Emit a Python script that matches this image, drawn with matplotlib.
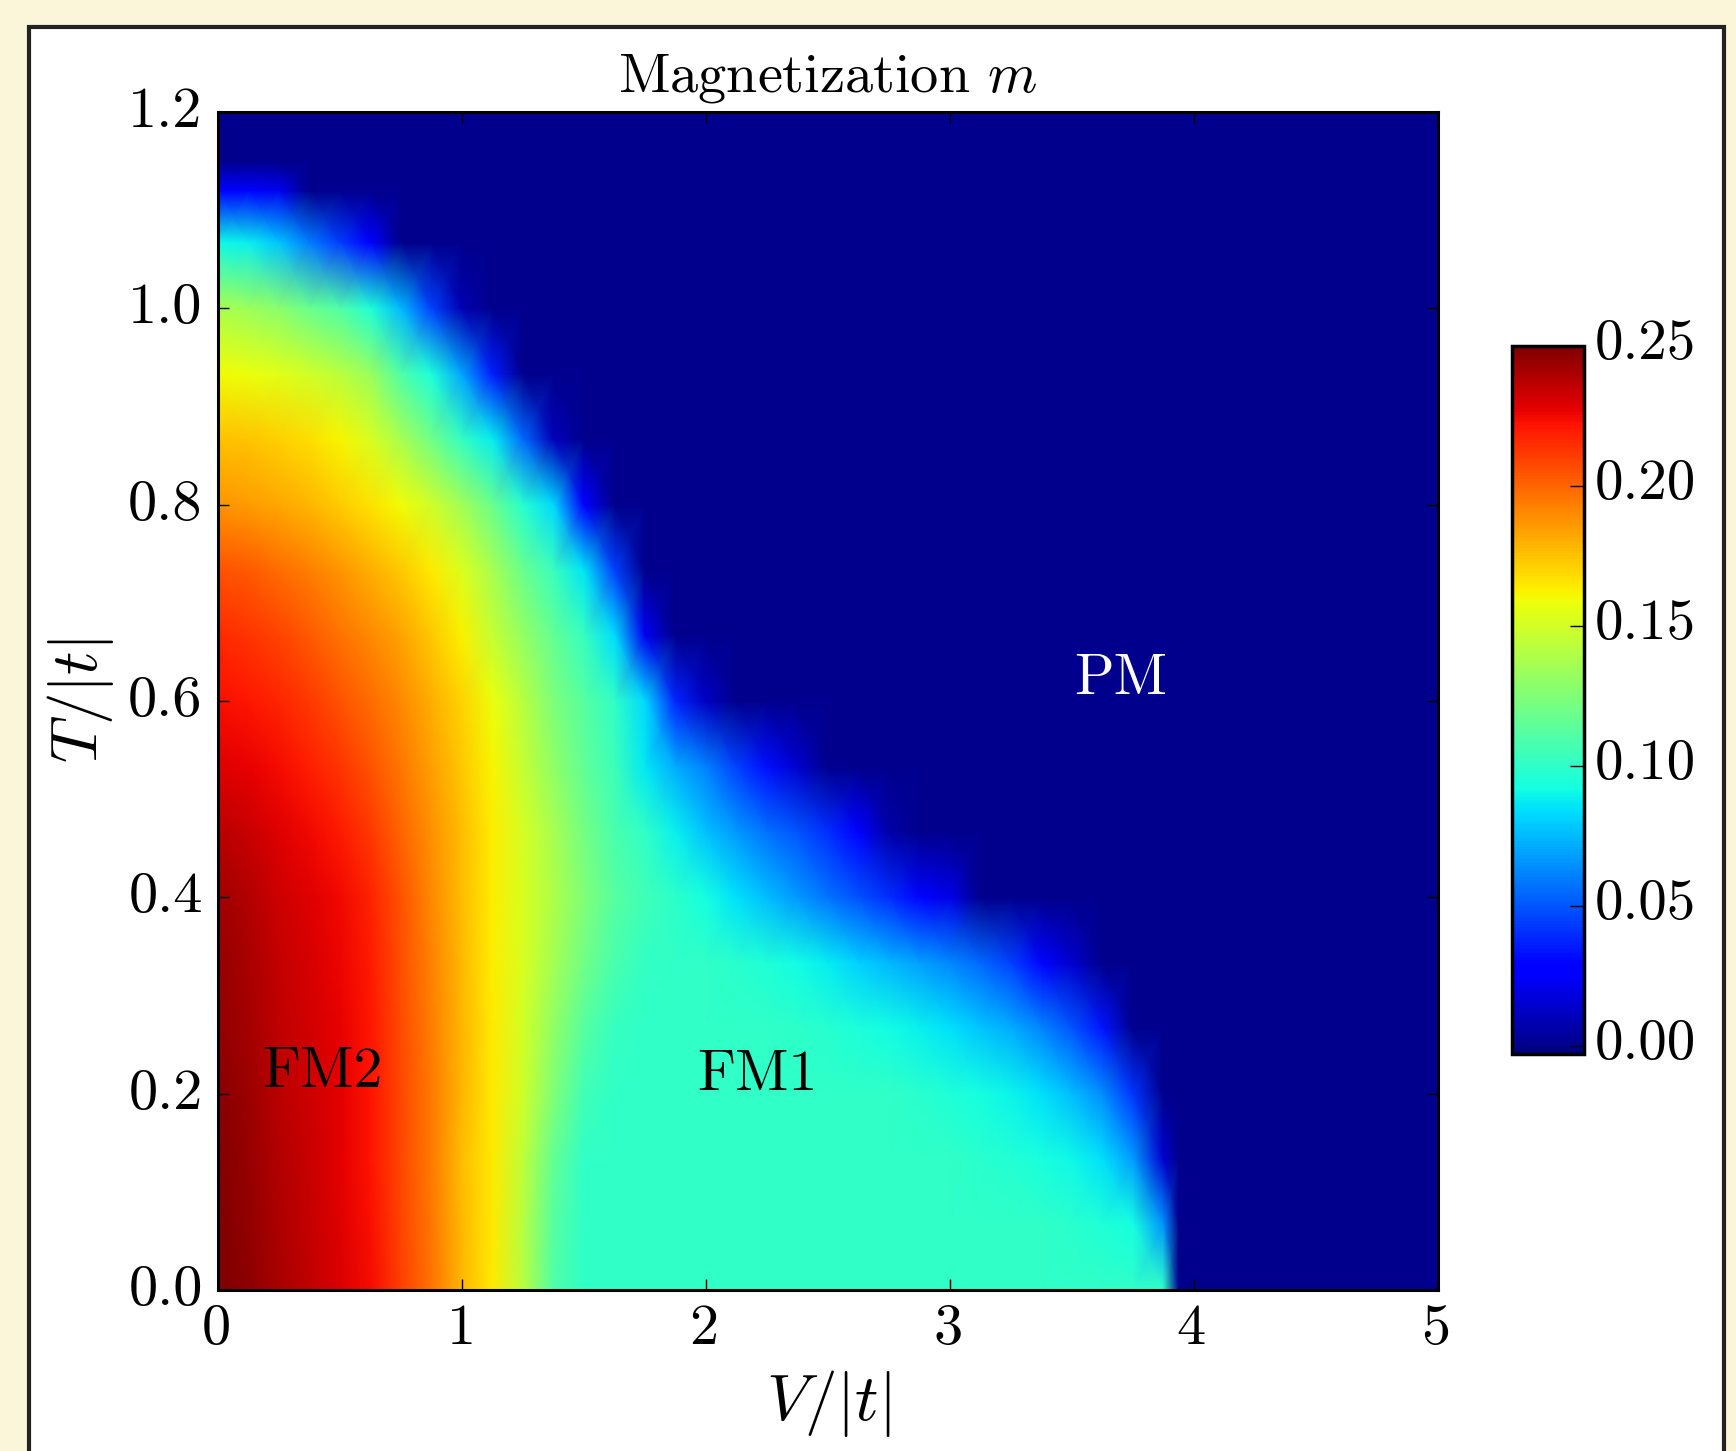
import matplotlib
matplotlib.use('Agg')
import matplotlib.pyplot as plt
from matplotlib.patches import Rectangle
from matplotlib.transforms import ScaledTranslation
import numpy as np

plt.rcParams['font.family'] = ['cmr10', 'DejaVu Serif']
plt.rcParams['mathtext.fontset'] = 'cm'
plt.rcParams['axes.unicode_minus'] = False
plt.rcParams['axes.formatter.use_mathtext'] = True

W, H = 1736, 1451

# grid of the map
v_grid = [0, 0.125, 0.25, 0.375, 0.5, 0.625, 0.75, 0.875, 1, 1.125, 1.25, 1.375, 1.5, 1.625, 1.75, 1.875,
          2, 2.125, 2.25, 2.375, 2.5, 2.625, 2.75, 2.875, 3, 3.125, 3.25, 3.375, 3.5, 3.625, 3.75, 3.875,
          3.9375, 4, 5]
t_grid = [0, 0.067, 0.133, 0.2, 0.267, 0.333, 0.4, 0.467, 0.533, 0.6, 0.667, 0.733, 0.8, 0.867, 0.933,
          1.0, 1.067, 1.12, 1.15, 1.2]

# magnetization x 1000 per T row, each row is zero past its last entry
m_t000 = [251, 247, 241, 236, 230, 224, 210, 196, 178, 165, 142, 110, 100, 100, 100, 100, 100, 100, 100, 100,
          100, 100, 100, 100, 100, 100, 100, 100, 100, 100, 100, 100]
m_t067 = [250, 246, 240, 235, 229, 223, 209, 195, 177, 165, 142, 112, 100, 100, 100, 100, 100, 100, 100, 100,
          100, 100, 100, 100, 100, 100, 100, 100, 98, 95, 92, 65]
m_t133 = [249, 245, 239, 234, 228, 222, 208, 194, 176, 165, 144, 116, 100, 100, 100, 100, 100, 100, 100, 100,
          100, 100, 100, 100, 100, 98, 96, 93, 90, 84, 68, 15]
m_t200 = [248, 244, 237, 233, 228, 222, 208, 194, 178, 165, 149, 125, 105, 100, 100, 100, 100, 100, 100, 100,
          100, 100, 100, 98, 95, 92, 89, 84, 76, 64, 42]
m_t267 = [246, 242, 236, 232, 227, 221, 207, 193, 178, 165, 150, 130, 112, 102, 100, 100, 100, 100, 100, 99,
          97, 94, 91, 88, 84, 78, 72, 62, 50, 34]
m_t333 = [245, 241, 235, 231, 226, 220, 206, 192, 177, 164, 152, 136, 120, 108, 101, 100, 100, 98, 95, 91,
          87, 81, 75, 69, 63, 55, 45, 30, 14]
m_t400 = [243, 239, 233, 229, 225, 218, 205, 190, 176, 164, 152, 139, 125, 112, 105, 99, 92, 84, 76, 67,
          58, 49, 40, 30, 20]
m_t467 = [237, 234, 229, 225, 220, 212, 200, 188, 176, 164, 151, 137, 121, 108, 100, 88, 77, 67, 57, 50, 40, 26, 6]
m_t533 = [229, 227, 224, 219, 213, 205, 195, 184, 173, 162, 146, 130, 115, 104, 86, 72, 61, 45, 32, 14]
m_t600 = [223, 221, 217, 212, 205, 198, 190, 180, 170, 158, 142, 124, 112, 100, 82, 38, 12]
m_t667 = [216, 213, 209, 203, 196, 190, 183, 173, 163, 146, 131, 116, 102, 83, 22]
m_t733 = [205, 203, 198, 193, 187, 180, 173, 165, 153, 137, 118, 103, 85, 45]
m_t800 = [187, 185, 182, 178, 172, 166, 160, 149, 135, 118, 97, 82, 25]
m_t867 = [175, 174, 171, 167, 162, 152, 137, 120, 101, 87, 55, 10]
m_t933 = [160, 158, 155, 150, 143, 133, 110, 94, 70, 36]
m_t1000 = [138, 134, 128, 118, 110, 95, 75, 45, 8]
m_t1067 = [90, 88, 78, 60, 44, 28]
m_t1120 = [28, 27, 22]
m_t1150 = []
m_t1200 = []

rows = [m_t000, m_t067, m_t133, m_t200, m_t267, m_t333, m_t400, m_t467, m_t533, m_t600, m_t667, m_t733,
        m_t800, m_t867, m_t933, m_t1000, m_t1067, m_t1120, m_t1150, m_t1200]

x_ticks = [0, 1, 2, 3, 4, 5]
y_ticks = [0.0, 0.2, 0.4, 0.6, 0.8, 1.0, 1.2]
cbar_ticks = [0.00, 0.05, 0.10, 0.15, 0.20, 0.25]

m = np.zeros((len(t_grid), len(v_grid)))
for i, row in enumerate(rows):
    m[i, :len(row)] = np.array(row) / 1000.0

fig = plt.figure(figsize=(W / 100, H / 100), dpi=100, facecolor='#fbf5da')

# white panel, runs off the bottom of the picture
fig.add_artist(Rectangle((29 / W, -0.05), (1724 - 29) / W, (H - 27) / H + 0.05, transform=fig.transFigure,
                         facecolor='white', edgecolor='#222222', linewidth=3, zorder=-1))

ax = fig.add_axes([218 / W, (H - 1290) / H, 1220 / W, 1178 / H])
# the colour bar starts a bit under its 0.00 tick
mesh = ax.pcolormesh(v_grid, t_grid, m, cmap='jet', vmin=-0.003, vmax=0.25, shading='gouraud', rasterized=True)
ax.set_xlim(0, 5)
ax.set_ylim(0, 1.2)
ax.set_xticks(x_ticks)
ax.set_yticks(y_ticks)
ax.set_yticklabels(['%.1f' % t for t in y_ticks])
ax.tick_params(direction='in', top=True, right=True, length=8, width=1, labelsize=42, color='k')
ax.tick_params(axis='x', pad=10)
ax.tick_params(axis='y', pad=11)
for s in ax.spines.values():
    s.set_linewidth(2.2)

# the labels sit a little off their ticks in the reference
up = ScaledTranslation(0, 5 / 100, fig.dpi_scale_trans)
left = ScaledTranslation(-3 / 100, 0, fig.dpi_scale_trans)
for lab in ax.get_yticklabels():
    lab.set_transform(lab.get_transform() + up)
for lab in ax.get_xticklabels():
    lab.set_transform(lab.get_transform() + left)

ax.set_title('Magnetization $m$', fontsize=40.5, pad=15)
ax.set_xlabel('$V/|t|$', fontsize=47, labelpad=9)
ax.set_ylabel('$T/|t|$', fontsize=47)
ax.yaxis.set_label_coords(-0.0836, 0.5)

ax.text(0.43, 0.222, 'FM2', fontsize=42, color='k', ha='center', va='center')
ax.text(2.21, 0.219, 'FM1', fontsize=42, color='k', ha='center', va='center')
ax.text(3.70, 0.622, 'PM', fontsize=42, color='white', ha='center', va='center')

cax = fig.add_axes([1512 / W, (H - 1054) / H, 72 / W, 708 / H])
cb = fig.colorbar(mesh, cax=cax, ticks=cbar_ticks)
cb.ax.set_yticklabels(['%.2f' % c for c in cbar_ticks])
cb.ax.tick_params(direction='in', length=10, width=1, labelsize=41, pad=8, color='k')
cb.outline.set_linewidth(2.5)
up2 = ScaledTranslation(0, 7 / 100, fig.dpi_scale_trans)
for lab in cb.ax.get_yticklabels():
    lab.set_transform(lab.get_transform() + up2)

fig.savefig('out.png', dpi=100, facecolor=fig.get_facecolor())
